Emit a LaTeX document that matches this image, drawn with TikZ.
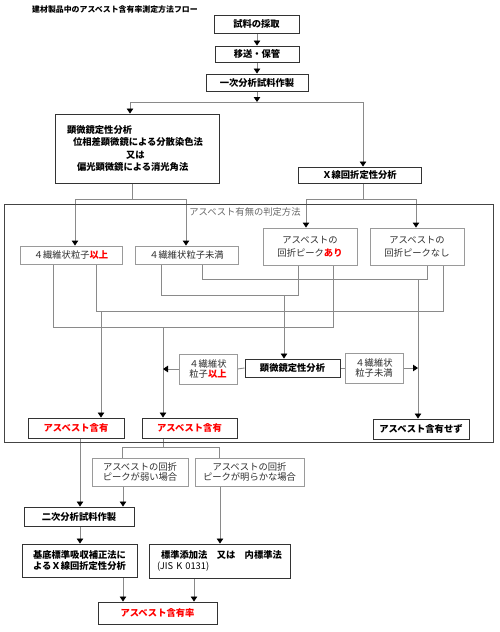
\documentclass[tikz,border=0pt]{standalone}
\usepackage{fontspec}
\setmainfont{Noto Sans CJK JP}
\usetikzlibrary{arrows.meta,backgrounds}
\definecolor{lineg}{HTML}{8A8A8A}
\definecolor{boxg}{HTML}{9A9A9A}
\definecolor{txtg}{HTML}{2E2E2E}
\definecolor{redt}{HTML}{FF0000}
\definecolor{framec}{HTML}{444444}
\begin{document}
\begin{tikzpicture}[x=1pt,y=-1pt,
  sz/.style 2 args={minimum width=#1pt, minimum height=#2pt},
  bbox/.style={draw=black!80, line width=0.95pt, fill=white, inner sep=0pt,
    font=\fontsize{9.3}{10.5}\selectfont\bfseries, align=center},
  gbox/.style={draw=boxg, line width=0.9pt, fill=white, inner sep=0pt, text=txtg,
    font=\fontsize{9.3}{10.5}\selectfont, align=center},
  redtxt/.style={text=redt},
  ln/.style={draw=lineg, line width=0.9pt},
  arr/.style={ln, -{Triangle[width=6.5pt,length=5pt,color=black]}},
]
\useasboundingbox (0,0) rectangle (500,632);

% title
\node[anchor=west, inner sep=0pt, font=\fontsize{7.9}{9}\selectfont\bfseries] (title) at (32,10)
  {建材製品中のアスベスト含有率測定方法フロー};

% top chain
\node[bbox,sz={85}{18}] (b1) at (256.5,24) {試料の採取};
\node[bbox,sz={84}{16}] (b2) at (257,54) {移送・保管};
\node[bbox,sz={102}{17}] (b3) at (257,82.5) {一次分析試料作製};
\node[bbox,sz={164}{69}, align=left, text width=140pt,
  font=\fontsize{9.3}{12.1}\selectfont\bfseries] (b4) at (137,148.5)
  {顕微鏡定性分析\\
   \hspace*{6pt}位相差顕微鏡による分散染色法\\
   \hspace*{59pt}又は\\
   \hspace*{10pt}偏光顕微鏡による消光角法};
\node[bbox,sz={123}{16}] (b5) at (359.5,175) {Ｘ線回折定性分析};

% judgement frame
\node[draw=framec, line width=0.9pt, sz={489}{238}, inner sep=0pt] (frame) at (248.5,323) {};
\node[inner sep=0pt, text=black!60, font=\fontsize{9.3}{10.5}\selectfont] (lab) at (245,212)
  {アスベスト有無の判定方法};

\node[gbox,sz={102}{18}] (g1) at (71,255) {４繊維状粒子{\bfseries\color{redt}以上}};
\node[gbox,sz={103}{18}] (g2) at (186.5,255) {４繊維状粒子未満};
\node[gbox,sz={94}{37}, font=\fontsize{9.3}{13}\selectfont] (g3) at (310,246.5)
  {アスベストの\\回折ピーク{\bfseries\color{redt}あり}};
\node[gbox,sz={94}{37}, font=\fontsize{9.3}{13}\selectfont] (g4) at (417,246.5)
  {アスベストの\\回折ピークなし};

\node[bbox,sz={95}{18}] (m1) at (292.5,368) {顕微鏡定性分析};
\node[gbox,sz={58}{30}] (s1) at (208,369) {４繊維状\\粒子{\bfseries\color{redt}以上}};
\node[gbox,sz={58}{30}] (s2) at (374,368) {４繊維状\\粒子未満};

\node[bbox,sz={96}{20},redtxt] (r1) at (76,428) {アスベスト含有};
\node[bbox,sz={95}{20},redtxt] (r2) at (189.5,428) {アスベスト含有};
\node[bbox,sz={96}{20}] (r3) at (421,429) {アスベスト含有せず};

% lower part
\node[gbox,sz={96}{28}] (g5) at (140,472) {アスベストの回折\\ピークが弱い場合};
\node[gbox,sz={109}{28}] (g6) at (249.5,472) {アスベストの回折\\ピークが明らかな場合};
\node[bbox,sz={110}{19}] (b6) at (79,516.5) {二次分析試料作製};
\node[bbox,sz={115}{33}] (b7) at (79.5,560.5) {基底標準吸収補正法に\\よるＸ線回折定性分析};
\node[bbox,sz={141}{34}, align=left, text width=128pt] (b8) at (219.5,561)
  {\hspace*{5.5pt}標準添加法　又は　内標準法\\\hspace*{1.5pt}{\mdseries (JIS K 0131)}};
\node[bbox,sz={119}{22},redtxt] (b9) at (157.5,613) {アスベスト含有率};

% connectors
\begin{scope}[on background layer]
\draw[arr] (b1.south -| b2.north) -- (b2.north);
\draw[arr] (b2.south) -- (b3.north);
\coordinate (j0) at (257,102);
\coordinate (jL) at (130,102);
\coordinate (jR) at (363,102);
\draw[arr] (b3.south) -- (j0);
\draw[ln] (jL) -- (jR);
\draw[arr] (jL) -- (jL |- b4.north);
\draw[arr] (jR) -- (jR |- b5.north);

\coordinate (k0) at (132,199);
\coordinate (kL) at (75,199);
\coordinate (kR) at (186,199);
\draw[ln] (k0 |- b4.south) -- (k0);
\draw[ln] (kL) -- (kR);
\draw[arr] (kL) -- (kL |- g1.north);
\draw[arr] (kR) -- (kR |- g2.north);

\coordinate (q0) at (363,199);
\coordinate (qL) at (306,199);
\coordinate (qR) at (416,199);
\draw[ln] (q0 |- b5.south) -- (q0);
\draw[ln] (qL) -- (qR);
\draw[arr] (qL) -- (qL |- g3.north);
\draw[arr] (qR) -- (qR |- g4.north);

% A: 以上 + あり -> r2
\coordinate (pA1) at (53,327);
\coordinate (pA2) at (333,327);
\coordinate (pA3) at (163,327);
\draw[ln] (pA1 |- g1.south) -- (pA1) -- (pA2) -- (pA2 |- g3.south);
\draw[arr] (pA3) -- (pA3 |- r2.north);
% B: 以上 + なし -> r1
\coordinate (pB1) at (96,311);
\coordinate (pB2) at (443,311);
\coordinate (pB3) at (101,311);
\draw[ln] (pB1 |- g1.south) -- (pB1) -- (pB2) -- (pB2 |- g4.south);
\draw[arr] (pB3) -- (pB3 |- r1.north);
% C: 未満 + あり -> m1
\coordinate (pC1) at (161,295);
\coordinate (pC2) at (298,295);
\coordinate (pC3) at (284,295);
\draw[ln] (pC1 |- g2.south) -- (pC1) -- (pC2) -- (pC2 |- g3.south);
\draw[arr] (pC3) -- (pC3 |- m1.north);
% D: 未満 + なし -> r3
\coordinate (pD1) at (202,279);
\coordinate (pD2) at (427,279);
\coordinate (pD3) at (418,279);
\draw[ln] (pD1 |- g2.south) -- (pD1) -- (pD2) -- (pD2 |- g4.south);
\draw[arr] (pD3) -- (pD3 |- r3.north);
% side branches of m1
\draw[ln] (m1.west) -- (s1.east);
\draw[arr] (s1.west) -- (s1.west -| pA3);
\draw[ln] (m1.east) -- (s2.west);
\draw[arr] (s2.east) -- (s2.east -| pD3);

% lower
\coordinate (e0) at (163,447);
\coordinate (eL) at (122,447);
\coordinate (eR) at (219,447);
\draw[ln] (e0 |- r2.south) -- (e0);
\draw[ln] (eL) -- (eR);
\draw[ln] (eL) -- (eL |- g5.north);
\draw[ln] (eR) -- (eR |- g6.north);
\coordinate (xA) at (80,500);
\coordinate (xB) at (123,500);
\coordinate (xC) at (220,500);
\coordinate (xD) at (194,500);
\draw[arr] (xA |- r1.south) -- (xA |- b6.north);
\draw[arr] (xB |- g5.south) -- (xB |- b6.north);
\draw[arr] (xC |- g6.south) -- (xC |- b8.north);
\draw[arr] (xA |- b6.south) -- (xA |- b7.north);
\draw[arr] (xB |- b7.south) -- (xB |- b9.north);
\draw[arr] (xD |- b8.south) -- (xD |- b9.north);
\end{scope}
\end{tikzpicture}
\end{document}
